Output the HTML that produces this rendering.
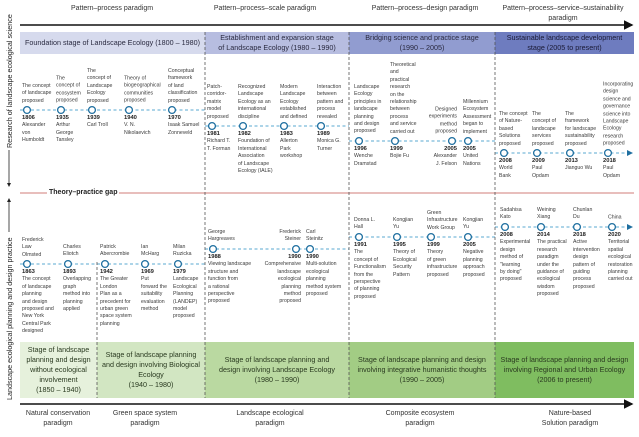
<!DOCTYPE html>
<html><head><meta charset="utf-8"><style>
*{margin:0;padding:0;box-sizing:border-box}
body{width:639px;height:437px;background:#fff;position:relative;overflow:hidden;font-family:"Liberation Sans",sans-serif;color:#333}
.t{position:absolute;font-size:5.2px;line-height:7.4px;white-space:nowrap;color:#3a3a3a}
.u{transform:translateY(-100%)}
.y{font-weight:bold;font-size:5.8px;color:#222}
.r{text-align:right;transform:translateX(-100%)}
.ru{text-align:right;transform:translate(-100%,-100%)}
.c{position:absolute;text-align:center;font-size:7px;line-height:10px;color:#333;white-space:nowrap}
.hb{position:absolute;top:32px;height:22px;font-size:7.2px;line-height:10px;text-align:center;color:#2a2a40;display:flex;align-items:center;justify-content:center}
.gb{position:absolute;top:342px;height:56px;font-size:7.2px;line-height:10px;text-align:center;color:#2a3a20;display:flex;align-items:center;justify-content:center}
.v{position:absolute;font-size:7.2px;white-space:nowrap;transform-origin:0 0;transform:rotate(-90deg);color:#222}
</style></head><body>
<svg width="639" height="437" style="position:absolute;left:0;top:0">
<defs><marker id="a" markerWidth="6" markerHeight="6" refX="5" refY="3" orient="auto"><path d="M0,0L6,3L0,6z" fill="#111"/></marker>
<marker id="b" markerWidth="6" markerHeight="6" refX="5" refY="3" orient="auto"><path d="M0,0L6,3L0,6z" fill="#1f6fa0"/></marker></defs>
<line x1="20" y1="25" x2="632" y2="25" stroke="#111" stroke-width="1.6" marker-end="url(#a)"/>
<line x1="20" y1="404" x2="632" y2="404" stroke="#111" stroke-width="1.6" marker-end="url(#a)"/>
<line x1="20" y1="193" x2="634" y2="193" stroke="#c0504d" stroke-width="0.8"/>
<g stroke="#5aa8d0" stroke-width="1" stroke-dasharray="3,2.5">
<line x1="20" y1="110" x2="205" y2="110"/><line x1="205" y1="126" x2="349" y2="126"/>
<line x1="349" y1="141" x2="495" y2="141"/><line x1="495" y1="153" x2="630" y2="153"/>
<line x1="20" y1="264" x2="205" y2="264"/><line x1="205" y1="249" x2="349" y2="249"/>
<line x1="349" y1="237" x2="495" y2="237"/><line x1="495" y1="227" x2="630" y2="227"/>
</g>
<path d="M627,150L633,153L627,156z M627,224L633,227L627,230z" fill="#1f6fa0"/>
<g fill="#fff" stroke="#1f6fa0" stroke-width="1.3">
<circle cx="27" cy="110" r="3.4"/><circle cx="61" cy="110" r="3.4"/><circle cx="92" cy="110" r="3.4"/><circle cx="129" cy="110" r="3.4"/><circle cx="172" cy="110" r="3.4"/>
<circle cx="212" cy="126" r="3.4"/><circle cx="243" cy="126" r="3.4"/><circle cx="284" cy="126" r="3.4"/><circle cx="321" cy="126" r="3.4"/>
<circle cx="359" cy="141" r="3.4"/><circle cx="395" cy="141" r="3.4"/><circle cx="452" cy="141" r="3.4"/><circle cx="468" cy="141" r="3.4"/>
<circle cx="504" cy="153" r="3.4"/><circle cx="537" cy="153" r="3.4"/><circle cx="570" cy="153" r="3.4"/><circle cx="608" cy="153" r="3.4"/>
<circle cx="27" cy="264" r="3.4"/><circle cx="68" cy="264" r="3.4"/><circle cx="105" cy="264" r="3.4"/><circle cx="145" cy="264" r="3.4"/><circle cx="178" cy="264" r="3.4"/>
<circle cx="213" cy="249" r="3.4"/><circle cx="296" cy="249" r="3.4"/><circle cx="310" cy="249" r="3.4"/>
<circle cx="359" cy="237" r="3.4"/><circle cx="397" cy="237" r="3.4"/><circle cx="431" cy="237" r="3.4"/><circle cx="468" cy="237" r="3.4"/>
<circle cx="505" cy="227" r="3.4"/><circle cx="541" cy="227" r="3.4"/><circle cx="577" cy="227" r="3.4"/><circle cx="612" cy="227" r="3.4"/>
</g>
</svg>
<div class="hb" style="left:20px;width:185px;background:#d6daed">Foundation stage of Landscape Ecology (1800 – 1980)</div>
<div class="hb" style="left:205px;width:144px;background:#b7bde0">Establishment and expansion stage<br>of Landscape Ecology (1980 – 1990)</div>
<div class="hb" style="left:349px;width:146px;background:#919cd0">Bridging science and practice stage<br>(1990 – 2005)</div>
<div class="hb" style="left:495px;width:139px;background:#6e7cbf;color:#1a1a35">Sustainable landscape development<br>stage (2005 to present)</div>
<div class="gb" style="left:20px;width:77px;background:#e6f1dc">Stage of landscape<br>planning and design<br>without ecological<br>involvement<br>(1850 – 1940)</div>
<div class="gb" style="left:97px;width:108px;background:#d2e6c2">Stage of landscape planning<br>and design involving Biological<br>Ecology<br>(1940 – 1980)</div>
<div class="gb" style="left:205px;width:144px;background:#bad9a1">Stage of landscape planning and<br>design involving Landscape Ecology<br>(1980 – 1990)</div>
<div class="gb" style="left:349px;width:146px;background:#a2cc84">Stage of landscape planning and design<br>involving integrative humanistic thoughts<br>(1990 – 2005)</div>
<div class="gb" style="left:495px;width:139px;background:#7fbd60">Stage of landscape planning and design<br>involving Regional and Urban Ecology<br>(2006 to present)</div>
<svg width="639" height="437" style="position:absolute;left:0;top:0">
<g stroke="#555" stroke-width="0.8" stroke-dasharray="3,2"><line x1="205" y1="32" x2="205" y2="398"/><line x1="349" y1="32" x2="349" y2="398"/><line x1="495" y1="32" x2="495" y2="398"/><line x1="97" y1="262" x2="97" y2="398"/></g>
<line x1="9" y1="150" x2="9" y2="186" stroke="#222" stroke-width="0.8"/><path d="M7,183L9,187L11,183z" fill="#222"/>
<line x1="9" y1="199" x2="9" y2="232" stroke="#222" stroke-width="0.8"/><path d="M7,202L9,198L11,202z" fill="#222"/>
</svg>
<div class="v" style="left:5px;top:148px">Research of landscape ecological science</div>
<div class="v" style="left:5px;top:400px">Landscape ecological planning and design practice</div>
<div style="position:absolute;left:47px;top:188px;background:#fff;padding:0 2px;font-size:7px;font-weight:bold;line-height:10px;color:#222">Theory–practice gap</div>
<div class="c" style="left:62px;top:4px;width:100px">Pattern–process paradigm</div>
<div class="c" style="left:205px;top:4px;width:120px">Pattern–process–scale paradigm</div>
<div class="c" style="left:365px;top:4px;width:120px">Pattern–process–design paradigm</div>
<div class="c" style="left:493px;top:4px;width:140px">Pattern–process–service–sustainability<br>paradigm</div>
<div class="c" style="left:8px;top:409px;width:100px">Natural conservation<br>paradigm</div>
<div class="c" style="left:105px;top:409px;width:80px">Green space system<br>paradigm</div>
<div class="c" style="left:220px;top:409px;width:100px">Landscape ecological<br>paradigm</div>
<div class="c" style="left:370px;top:409px;width:100px">Composite ecosystem<br>paradigm</div>
<div class="c" style="left:520px;top:409px;width:100px">Nature-based<br>Solution paradigm</div>

<div class="t u" style="left:22px;top:105px">The concept<br>of landscape<br>proposed</div>
<div class="t" style="left:22px;top:115px"><span class="y">1806</span><br>Alexander<br>von<br>Humboldt</div>
<div class="t u" style="left:56px;top:105px">The<br>concept of<br>ecosystem<br>proposed</div>
<div class="t" style="left:56px;top:115px"><span class="y">1935</span><br>Arthur<br>George<br>Tansley</div>
<div class="t u" style="left:87px;top:105px">The<br>concept of<br>Landscape<br>Ecology<br>proposed</div>
<div class="t" style="left:87px;top:115px"><span class="y">1939</span><br>Carl Troll</div>
<div class="t u" style="left:124px;top:105px">Theory of<br>biogeographical<br>communities<br>proposed</div>
<div class="t" style="left:124px;top:115px"><span class="y">1940</span><br>V. N.<br>Nikolaevich</div>
<div class="t u" style="left:168px;top:105px">Conceptual<br>framework<br>of land<br>classification<br>proposed</div>
<div class="t" style="left:168px;top:115px"><span class="y">1970</span><br>Isaak Samuel<br>Zonneveld</div>

<div class="t u" style="left:207px;top:121px">Patch-<br>corridor-<br>matrix<br>model<br>proposed</div>
<div class="t" style="left:207px;top:131px"><span class="y">1981</span><br>Richard T.<br>T. Forman</div>
<div class="t u" style="left:238px;top:121px">Recognized<br>Landscape<br>Ecology as an<br>international<br>discipline</div>
<div class="t" style="left:238px;top:131px"><span class="y">1982</span><br>Foundation of<br>International<br>Association<br>of Landscape<br>Ecology (IALE)</div>
<div class="t u" style="left:280px;top:121px">Modern<br>Landscape<br>Ecology<br>established<br>and defined</div>
<div class="t" style="left:280px;top:131px"><span class="y">1983</span><br>Allerton<br>Park<br>workshop</div>
<div class="t u" style="left:317px;top:121px">Interaction<br>between<br>pattern and<br>process<br>revealed</div>
<div class="t" style="left:317px;top:131px"><span class="y">1989</span><br>Monica G.<br>Turner</div>

<div class="t u" style="left:354px;top:136px">Landscape<br>Ecology<br>principles in<br>landscape<br>planning<br>and design<br>proposed</div>
<div class="t" style="left:354px;top:146px"><span class="y">1996</span><br>Wenche<br>Dramstad</div>
<div class="t u" style="left:390px;top:136px">Theoretical<br>and<br>practical<br>research<br>on the<br>relationship<br>between<br>process<br>and service<br>carried out</div>
<div class="t" style="left:390px;top:146px"><span class="y">1999</span><br>Bojie Fu</div>
<div class="t ru" style="left:457px;top:136px">Designed<br>experiments<br>method<br>proposed</div>
<div class="t r" style="left:457px;top:146px"><span class="y">2005</span><br>Alexander<br>J. Felson</div>
<div class="t u" style="left:463px;top:136px">Millennium<br>Ecosystem<br>Assessment<br>began to<br>implement</div>
<div class="t" style="left:463px;top:146px"><span class="y">2005</span><br>United<br>Nations</div>

<div class="t u" style="left:499px;top:148px">The concept<br>of Nature-<br>based<br>Solutions<br>proposed</div>
<div class="t" style="left:499px;top:158px"><span class="y">2008</span><br>World<br>Bank</div>
<div class="t u" style="left:532px;top:148px">The<br>concept of<br>landscape<br>services<br>proposed</div>
<div class="t" style="left:532px;top:158px"><span class="y">2009</span><br>Paul<br>Opdam</div>
<div class="t u" style="left:565px;top:148px">The<br>framework<br>for landscape<br>sustainability<br>proposed</div>
<div class="t" style="left:565px;top:158px"><span class="y">2013</span><br>Jianguo Wu</div>
<div class="t u" style="left:603px;top:148px">Incorporating<br>design<br>science and<br>governance<br>science into<br>Landscape<br>Ecology<br>research<br>proposed</div>
<div class="t" style="left:603px;top:158px"><span class="y">2018</span><br>Paul<br>Opdam</div>

<div class="t u" style="left:22px;top:259px">Frederick<br>Law<br>Olmsted</div>
<div class="t" style="left:22px;top:269px"><span class="y">1863</span><br>The concept<br>of landscape<br>planning<br>and design<br>proposed and<br>New York<br>Central Park<br>designed</div>
<div class="t u" style="left:63px;top:259px">Charles<br>Eliotch</div>
<div class="t" style="left:63px;top:269px"><span class="y">1893</span><br>Overlapping<br>graph<br>method into<br>planning<br>applied</div>
<div class="t u" style="left:100px;top:259px">Patrick<br>Abercrombie</div>
<div class="t" style="left:100px;top:269px"><span class="y">1942</span><br>The Greater<br>London<br>Plan as a<br>precedent for<br>urban green<br>space system<br>planning</div>
<div class="t u" style="left:141px;top:259px">Ian<br>McHarg</div>
<div class="t" style="left:141px;top:269px"><span class="y">1969</span><br>Put<br>forward the<br>suitability<br>evaluation<br>method</div>
<div class="t u" style="left:173px;top:259px">Milan<br>Ruzicka</div>
<div class="t" style="left:173px;top:269px"><span class="y">1979</span><br>Landscape<br>Ecological<br>Planning<br>(LANDEP)<br>model<br>proposed</div>

<div class="t u" style="left:208px;top:244px">George<br>Hargreaves</div>
<div class="t" style="left:208px;top:254px"><span class="y">1988</span><br>Viewing landscape<br>structure and<br>function from<br>a rational<br>perspective<br>proposed</div>
<div class="t ru" style="left:301px;top:244px">Frederick<br>Steiner</div>
<div class="t r" style="left:301px;top:254px"><span class="y">1990</span><br>Comprehensive<br>landscape<br>ecological<br>planning<br>method<br>proposed</div>
<div class="t u" style="left:306px;top:244px">Carl<br>Steinitz</div>
<div class="t" style="left:306px;top:254px"><span class="y">1990</span><br>Multi-solution<br>ecological<br>planning<br>method system<br>proposed</div>

<div class="t u" style="left:354px;top:232px">Donna L.<br>Hall</div>
<div class="t" style="left:354px;top:242px"><span class="y">1991</span><br>The<br>concept of<br>Functionalism<br>from the<br>perspective<br>of planning<br>proposed</div>
<div class="t u" style="left:393px;top:232px">Kongjian<br>Yu</div>
<div class="t" style="left:393px;top:242px"><span class="y">1995</span><br>Theory of<br>Ecological<br>Security<br>Pattern</div>
<div class="t u" style="left:427px;top:232px">Green<br>Infrastructure<br>Work Group</div>
<div class="t" style="left:427px;top:242px"><span class="y">1999</span><br>Theory<br>of green<br>infrastructure<br>proposed</div>
<div class="t u" style="left:463px;top:232px">Kongjian<br>Yu</div>
<div class="t" style="left:463px;top:242px"><span class="y">2005</span><br>Negative<br>planning<br>approach<br>proposed</div>

<div class="t u" style="left:500px;top:222px">Sadahisa<br>Kato</div>
<div class="t" style="left:500px;top:232px"><span class="y">2008</span><br>Experimental<br>design<br>method of<br>"learning<br>by doing"<br>proposed</div>
<div class="t u" style="left:537px;top:222px">Weining<br>Xiang</div>
<div class="t" style="left:537px;top:232px"><span class="y">2014</span><br>The practical<br>research<br>paradigm<br>under the<br>guidance of<br>ecological<br>wisdom<br>proposed</div>
<div class="t u" style="left:573px;top:222px">Chunlan<br>Du</div>
<div class="t" style="left:573px;top:232px"><span class="y">2018</span><br>Active<br>intervention<br>design<br>pattern of<br>guiding<br>process<br>proposed</div>
<div class="t u" style="left:608px;top:222px">China</div>
<div class="t" style="left:608px;top:232px"><span class="y">2020</span><br>Territorial<br>spatial<br>ecological<br>restoration<br>planning<br>carried out</div>
</body></html>
